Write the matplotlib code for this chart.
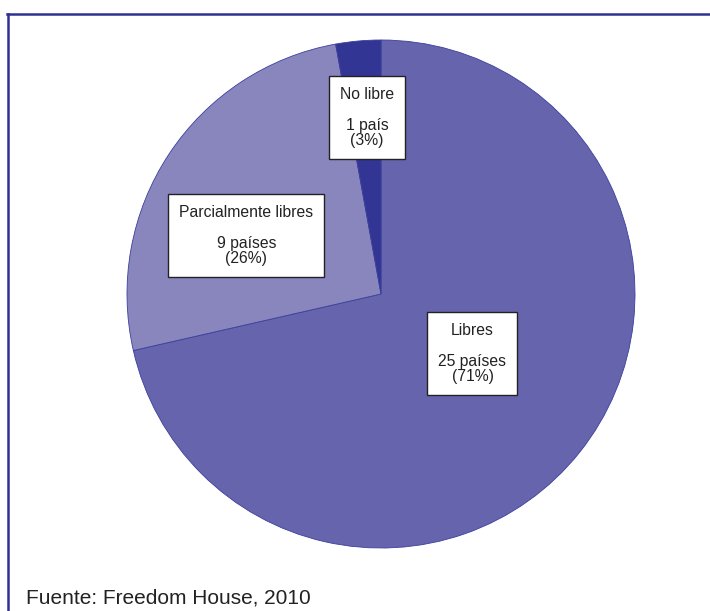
import matplotlib.pyplot as plt
from matplotlib.lines import Line2D

# datos (Freedom House, 2010)
categorias = ["Libres", "Parcialmente libres", "No libre"]
paises = [25, 9, 1]
unidades = ["países", "países", "país"]
colores = ["#6664ac", "#8986be", "#333594"]
# posiciones de las etiquetas (coordenadas del pastel)
pos_etiquetas = [(0.36, -0.235), (-0.53, 0.23), (-0.055, 0.695)]
fuente = "Fuente: Freedom House, 2010"

plt.rcParams['font.family'] = ['Liberation Sans', 'DejaVu Sans']

fig = plt.figure(figsize=(7.10, 6.11), dpi=100)
ax = fig.add_axes([127 / 710, (611 - 548) / 611, 508 / 710, 508 / 611])

ax.pie(paises, colors=colores, startangle=90, counterclock=False, radius=1,
       wedgeprops=dict(edgecolor="#3b3f9c", linewidth=0.6))
ax.set_xlim(-1, 1)
ax.set_ylim(-1, 1)
ax.set_aspect('equal')
ax.axis('off')

total = sum(paises)
for cat, n, u, (x, y) in zip(categorias, paises, unidades, pos_etiquetas):
    pct = round(100 * n / total)
    ax.text(x, y, f"{cat}\n\n{n} {u}\n({pct}%)", ha='center', va='center',
            fontsize=11.3, color="#222222", linespacing=1.02,
            bbox=dict(boxstyle='square,pad=0.7', facecolor='white',
                      edgecolor='#222222', linewidth=1.0))

# marco superior e izquierdo
fig.add_artist(Line2D([7 / 710, 1], [1 - 14 / 611, 1 - 14 / 611],
                      color="#2e3192", linewidth=1.8, transform=fig.transFigure))
fig.add_artist(Line2D([7.5 / 710, 7.5 / 710], [0, 1 - 14 / 611],
                      color="#2e3192", linewidth=1.8, transform=fig.transFigure))

fig.text(26 / 710, 1 - 604 / 611, fuente, fontsize=15, color="#222222",
         ha='left', va='baseline')

fig.savefig("out.png", dpi=100)
